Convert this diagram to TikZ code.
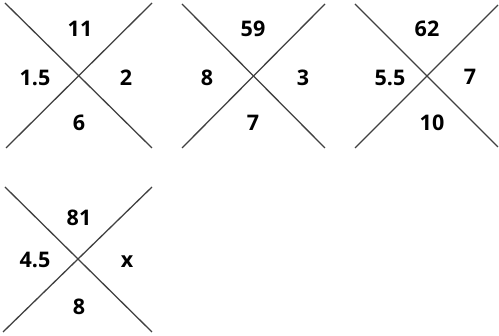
\documentclass[tikz,border=0pt]{standalone}
\usepackage{fontspec}
\setmainfont{Open Sans}
\usepackage{tikz}

\tikzset{
  arm/.style={draw=black!75, line width=1.3pt},
  num/.style={font=\bfseries\fontsize{21.5}{21.5}\selectfont, inner sep=0pt},
}

\begin{document}
\begin{tikzpicture}[x=1pt, y=-1pt]
  \useasboundingbox (0,0) rectangle (499,336);
  % first cross
  \coordinate (a1) at (5, 3);
  \coordinate (a2) at (152, 148);
  \coordinate (a3) at (152, 3);
  \coordinate (a4) at (6, 148);
  \draw[arm] (a1) -- (a2);
  \draw[arm] (a3) -- (a4);
  \node[num] (a-top) at (80, 29) {11};
  \node[num] (a-left) at (35, 78) {1.5};
  \node[num] (a-right) at (126, 78) {2};
  \node[num] (a-bottom) at (79, 123) {6};
  % second cross
  \coordinate (b1) at (182, 4);
  \coordinate (b2) at (325, 148);
  \coordinate (b3) at (325, 4);
  \coordinate (b4) at (182, 148);
  \draw[arm] (b1) -- (b2);
  \draw[arm] (b3) -- (b4);
  \node[num] (b-top) at (253, 29) {59};
  \node[num] (b-left) at (207, 78) {8};
  \node[num] (b-right) at (303, 78) {3};
  \node[num] (b-bottom) at (253, 123) {7};
  % third cross
  \coordinate (c1) at (355, 4);
  \coordinate (c2) at (498, 147);
  \coordinate (c3) at (498, 5);
  \coordinate (c4) at (355, 148);
  \draw[arm] (c1) -- (c2);
  \draw[arm] (c3) -- (c4);
  \node[num] (c-top) at (427, 29) {62};
  \node[num] (c-left) at (390, 78) {5.5};
  \node[num] (c-right) at (470, 77) {7};
  \node[num] (c-bottom) at (432, 123) {10};
  % fourth cross
  \coordinate (d1) at (5, 187);
  \coordinate (d2) at (152, 332);
  \coordinate (d3) at (152, 187);
  \coordinate (d4) at (3, 332);
  \draw[arm] (d1) -- (d2);
  \draw[arm] (d3) -- (d4);
  \node[num] (d-top) at (79, 218) {81};
  \node[num] (d-left) at (35, 260) {4.5};
  \node[num] (d-right) at (127, 262) {x};
  \node[num] (d-bottom) at (79, 307) {8};
\end{tikzpicture}
\end{document}
